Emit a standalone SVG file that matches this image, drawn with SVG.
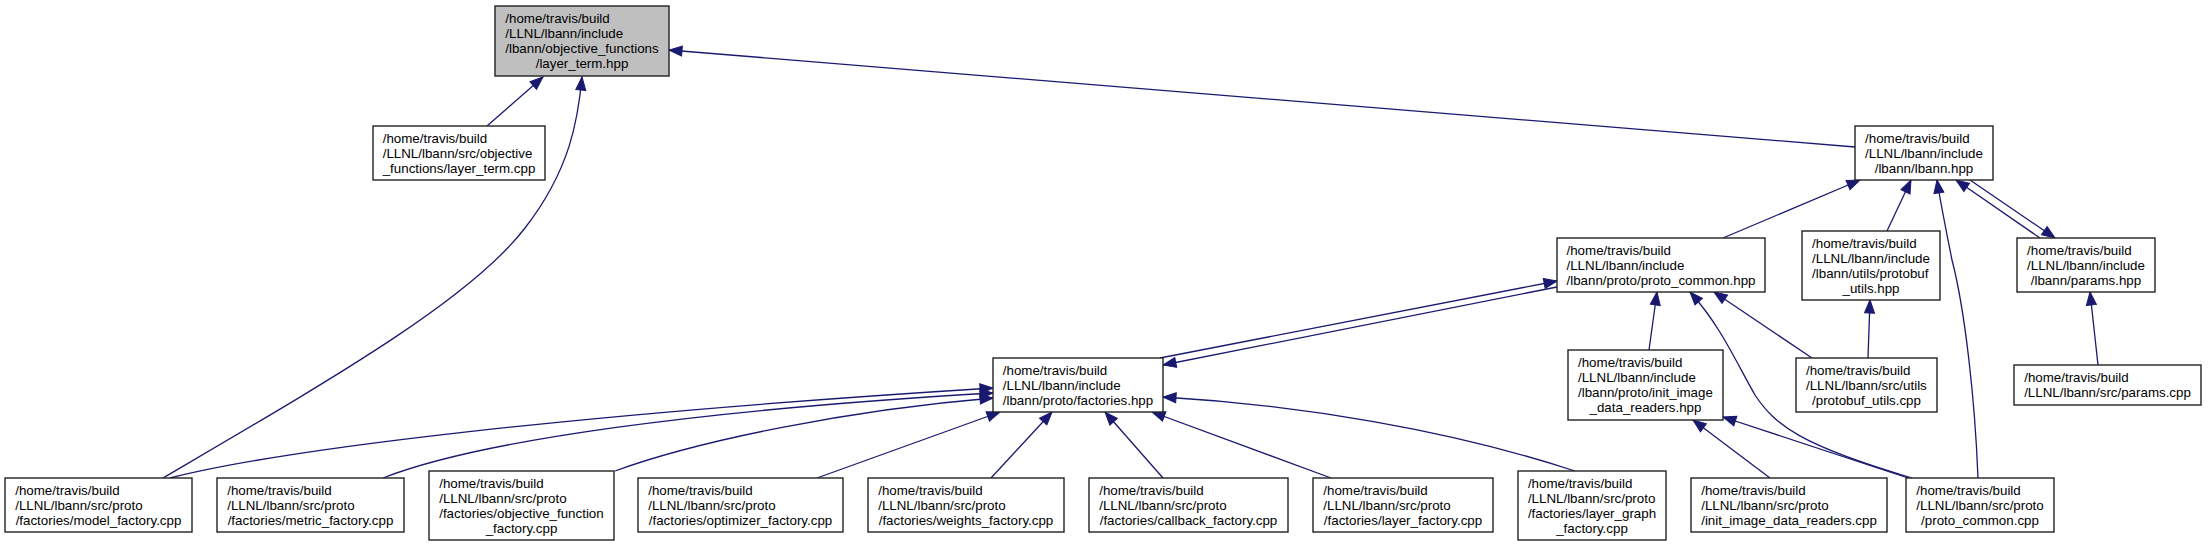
<svg xmlns="http://www.w3.org/2000/svg" width="2208" height="547" viewBox="0 0 2208 547">
<style>
.n rect{fill:#ffffff;stroke:#222222;stroke-width:1.4}
.n.g rect{fill:#bfbfbf}
.n text{font-family:"Liberation Sans",Arial,sans-serif;font-size:13.33px;fill:#000}
.c{text-anchor:middle}
#edges path{fill:none;stroke:#191970;stroke-width:1.3;marker-end:url(#ah)}
</style>
<defs>
<marker id="ah" markerUnits="userSpaceOnUse" markerWidth="14" markerHeight="11" refX="13" refY="5" orient="auto" overflow="visible">
<path d="M0,0 L13,5 L0,10 z" fill="#191970" stroke="#191970" stroke-width="1"/>
</marker>
</defs>
<rect width="2208" height="547" fill="#ffffff"/>
<g id="edges">
<path d="M487,126 L543,77"/>
<path d="M163,478 C330,380 470,300 525,228 C570,170 578,120 582,77"/>
<path d="M1855,147 L669,50"/>
<path d="M1723,238 L1860,180"/>
<path d="M1887,231 L1911,180"/>
<path d="M1978,478 C1975,400 1965,310 1952,260 C1945,225 1940,200 1937,180"/>
<path d="M2040,238 L1956,180"/>
<path d="M1970,180 L2055,238"/>
<path d="M1160,358 L1557,281"/>
<path d="M1649,350 L1657,292"/>
<path d="M1912,478 C1800,445 1775,425 1755,395 C1735,360 1720,325 1690,292"/>
<path d="M1812,358 L1714,292"/>
<path d="M1868,358 L1870,300"/>
<path d="M2098,365 L2090,292"/>
<path d="M1557,287 L1163,365"/>
<path d="M170,478 C280,450 560,415 993,388"/>
<path d="M383,478 C480,440 700,410 993,393"/>
<path d="M615,471 C700,440 850,410 993,398"/>
<path d="M817,478 L1000,412"/>
<path d="M991,478 L1052,412"/>
<path d="M1163,478 L1105,412"/>
<path d="M1331,478 L1152,412"/>
<path d="M1575,471 C1450,430 1300,405 1163,397"/>
<path d="M1770,478 L1693,420"/>
<path d="M1908,478 L1723,417"/>
</g>
<g id="layer_term_hpp" class="n g"><rect x="495" y="6" width="174" height="70"/>
<text x="505.3" y="23">/home/travis/build</text><text x="505.3" y="38">/LLNL/lbann/include</text><text x="505.3" y="53">/lbann/objective_functions</text><text class="c" x="582" y="68">/layer_term.hpp</text></g>
<g id="layer_term_cpp" class="n"><rect x="373" y="126" width="172" height="54"/>
<text x="382.7" y="142.5">/home/travis/build</text><text x="382.7" y="157.5">/LLNL/lbann/src/objective</text><text class="c" x="459" y="172.5">_functions/layer_term.cpp</text></g>
<g id="lbann_hpp" class="n"><rect x="1855" y="126" width="138" height="54"/>
<text x="1865.1" y="142.5">/home/travis/build</text><text x="1865.1" y="157.5">/LLNL/lbann/include</text><text class="c" x="1924" y="172.5">/lbann/lbann.hpp</text></g>
<g id="proto_common_hpp" class="n"><rect x="1557" y="238" width="208" height="54"/>
<text x="1566.5" y="254.5">/home/travis/build</text><text x="1566.5" y="269.5">/LLNL/lbann/include</text><text class="c" x="1661" y="284.5">/lbann/proto/proto_common.hpp</text></g>
<g id="protobuf_utils_hpp" class="n"><rect x="1802" y="231" width="138" height="69"/>
<text x="1812.1" y="247.5">/home/travis/build</text><text x="1812.1" y="262.5">/LLNL/lbann/include</text><text x="1812.1" y="277.5">/lbann/utils/protobuf</text><text class="c" x="1871" y="292.5">_utils.hpp</text></g>
<g id="params_hpp" class="n"><rect x="2017" y="238" width="138" height="54"/>
<text x="2027.1" y="254.5">/home/travis/build</text><text x="2027.1" y="269.5">/LLNL/lbann/include</text><text class="c" x="2086" y="284.5">/lbann/params.hpp</text></g>
<g id="factories_hpp" class="n"><rect x="993" y="358" width="170" height="54"/>
<text x="1002.8" y="374.5">/home/travis/build</text><text x="1002.8" y="389.5">/LLNL/lbann/include</text><text class="c" x="1078" y="404.5">/lbann/proto/factories.hpp</text></g>
<g id="init_image_data_readers_hpp" class="n"><rect x="1568" y="350" width="155" height="70"/>
<text x="1578" y="367">/home/travis/build</text><text x="1578" y="382">/LLNL/lbann/include</text><text x="1578" y="397">/lbann/proto/init_image</text><text class="c" x="1645.5" y="412">_data_readers.hpp</text></g>
<g id="protobuf_utils_cpp" class="n"><rect x="1796" y="358" width="141" height="54"/>
<text x="1806" y="374.5">/home/travis/build</text><text x="1806" y="389.5">/LLNL/lbann/src/utils</text><text class="c" x="1866.5" y="404.5">/protobuf_utils.cpp</text></g>
<g id="params_cpp" class="n"><rect x="2014" y="365" width="187" height="40"/>
<text x="2024.2" y="382">/home/travis/build</text><text class="c" x="2107.5" y="397">/LLNL/lbann/src/params.cpp</text></g>
<g id="model_factory_cpp" class="n"><rect x="5" y="478" width="187" height="54"/>
<text x="15.2" y="494.5">/home/travis/build</text><text x="15.2" y="509.5">/LLNL/lbann/src/proto</text><text class="c" x="98.5" y="524.5">/factories/model_factory.cpp</text></g>
<g id="metric_factory_cpp" class="n"><rect x="217" y="478" width="187" height="54"/>
<text x="227.2" y="494.5">/home/travis/build</text><text x="227.2" y="509.5">/LLNL/lbann/src/proto</text><text class="c" x="310.5" y="524.5">/factories/metric_factory.cpp</text></g>
<g id="objective_function_factory_cpp" class="n"><rect x="429" y="471" width="185" height="69"/>
<text x="439.2" y="487.5">/home/travis/build</text><text x="439.2" y="502.5">/LLNL/lbann/src/proto</text><text x="439.2" y="517.5">/factories/objective_function</text><text class="c" x="521.5" y="532.5">_factory.cpp</text></g>
<g id="optimizer_factory_cpp" class="n"><rect x="638" y="478" width="205" height="54"/>
<text x="648.2" y="494.5">/home/travis/build</text><text x="648.2" y="509.5">/LLNL/lbann/src/proto</text><text class="c" x="740.5" y="524.5">/factories/optimizer_factory.cpp</text></g>
<g id="weights_factory_cpp" class="n"><rect x="868" y="478" width="196" height="54"/>
<text x="878.2" y="494.5">/home/travis/build</text><text x="878.2" y="509.5">/LLNL/lbann/src/proto</text><text class="c" x="966" y="524.5">/factories/weights_factory.cpp</text></g>
<g id="callback_factory_cpp" class="n"><rect x="1089" y="478" width="199" height="54"/>
<text x="1099.2" y="494.5">/home/travis/build</text><text x="1099.2" y="509.5">/LLNL/lbann/src/proto</text><text class="c" x="1188.5" y="524.5">/factories/callback_factory.cpp</text></g>
<g id="layer_factory_cpp" class="n"><rect x="1313" y="478" width="180" height="54"/>
<text x="1323.3" y="494.5">/home/travis/build</text><text x="1323.3" y="509.5">/LLNL/lbann/src/proto</text><text class="c" x="1403" y="524.5">/factories/layer_factory.cpp</text></g>
<g id="layer_graph_factory_cpp" class="n"><rect x="1518" y="471" width="148" height="69"/>
<text x="1527.9" y="487.5">/home/travis/build</text><text x="1527.9" y="502.5">/LLNL/lbann/src/proto</text><text x="1527.9" y="517.5">/factories/layer_graph</text><text class="c" x="1592" y="532.5">_factory.cpp</text></g>
<g id="init_image_data_readers_cpp" class="n"><rect x="1691" y="478" width="196" height="54"/>
<text x="1701.2" y="494.5">/home/travis/build</text><text x="1701.2" y="509.5">/LLNL/lbann/src/proto</text><text class="c" x="1789" y="524.5">/init_image_data_readers.cpp</text></g>
<g id="proto_common_cpp" class="n"><rect x="1906" y="478" width="148" height="54"/>
<text x="1916.3" y="494.5">/home/travis/build</text><text x="1916.3" y="509.5">/LLNL/lbann/src/proto</text><text class="c" x="1980" y="524.5">/proto_common.cpp</text></g>
</svg>
